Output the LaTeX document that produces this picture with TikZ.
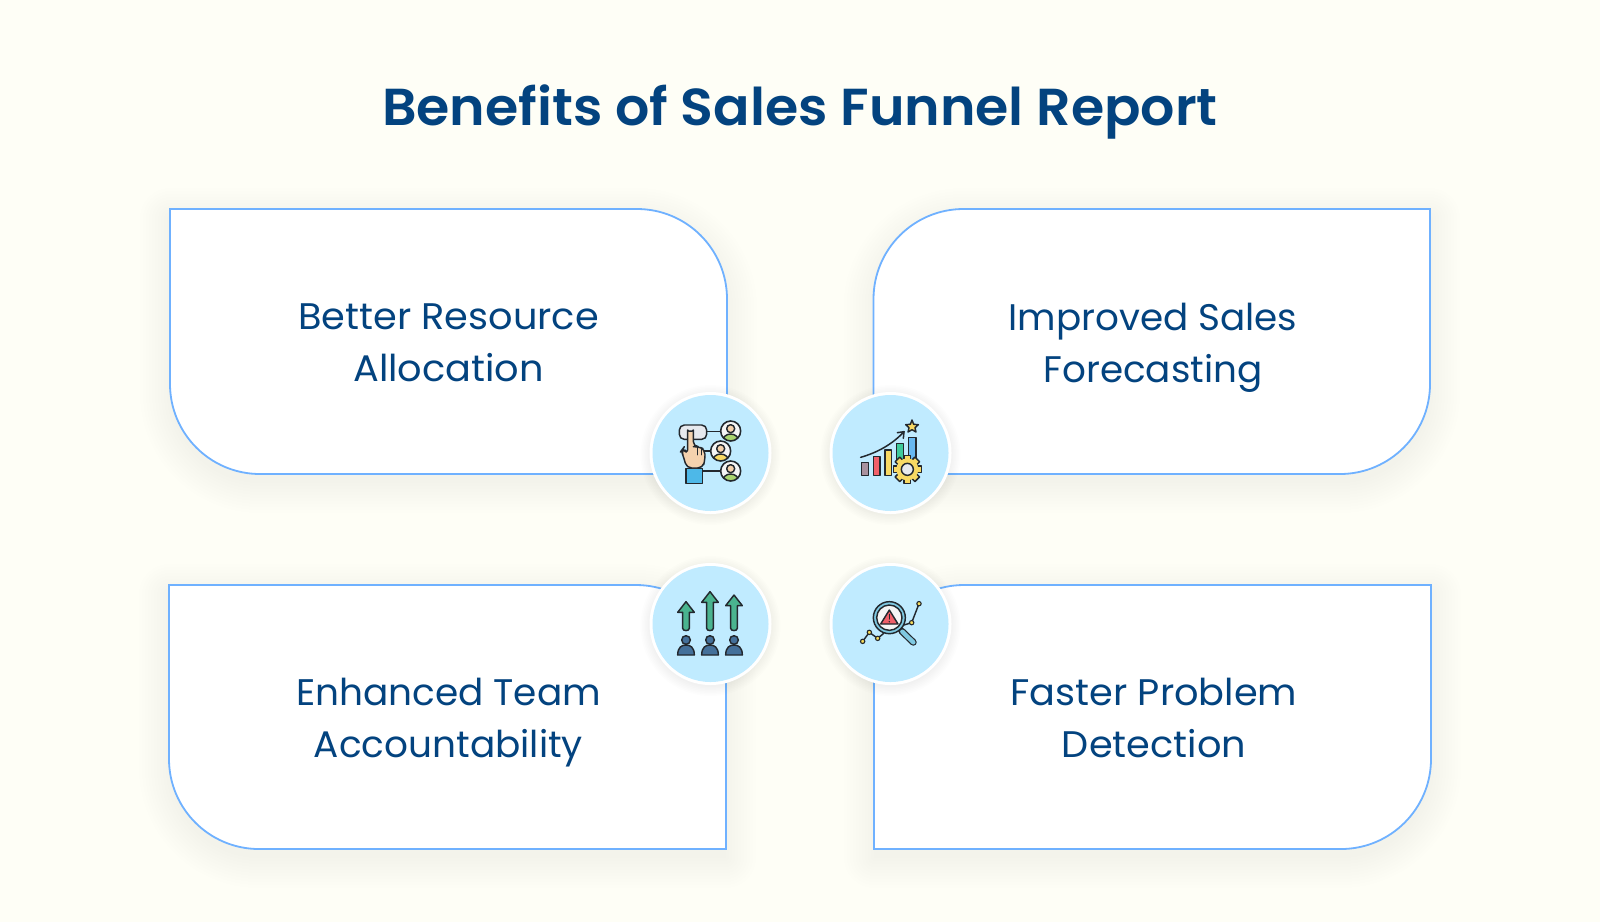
\documentclass[tikz,border=0pt]{standalone}
\usepackage{fontspec}
\setmainfont{Poppins}
\newfontfamily\bodyfont[FakeStretch=1.045]{Poppins}
\newfontfamily\headfont[FakeStretch=1.035]{Poppins SemiBold}
\definecolor{bgc}{HTML}{FEFEF6}
\definecolor{navy}{HTML}{03437F}
\definecolor{edge}{HTML}{6FB1FF}
\definecolor{disc}{HTML}{C0EBFF}
\definecolor{ink}{HTML}{23282E}
\definecolor{skin}{HTML}{F5D2AE}
\definecolor{pale}{HTML}{E7E9EE}
\definecolor{leaf}{HTML}{A9D46F}
\definecolor{sun}{HTML}{F8D964}
\definecolor{coral}{HTML}{F0606A}
\definecolor{mint}{HTML}{3FCB9B}
\definecolor{sky}{HTML}{68B8F0}
\definecolor{mauve}{HTML}{A8919E}
\definecolor{sea}{HTML}{4AB48F}
\definecolor{steel}{HTML}{44709A}
\definecolor{lens}{HTML}{7FC9E2}
\definecolor{cuff}{HTML}{4DB8E8}
\tikzset{
  x=1pt,y=-1pt,
  cardline/.style={draw=edge,line width=1.8pt,fill=white},
  softshade/.style={fill=black!62,opacity=0.005,draw=none},
  cardtext/.style={text=navy,align=center,font=\bodyfont\fontsize{37}{52}\selectfont,inner sep=0pt,transform shape},
  titletext/.style={text=navy,font=\headfont\fontsize{52}{60}\selectfont,inner sep=0pt,anchor=base},
  ring/.style={fill=white},
  badge/.style={fill=disc},
  glyph/.style={draw=ink,line width=1.45pt,line join=round,line cap=round},
  zoomed/.style={x=0.33333pt,y=-0.33333pt}
}
\newcommand{\twolines}[2]{\vphantom{Ag}#1\\\vphantom{Ag}#2}
% left, top, right, bottom, radii TL TR BR BL
\newcommand{\cardpath}[8]{
  ({#1+#5},#2) -- ({#3-#6},#2)
  .. controls ({#3-0.448*#6},#2) and (#3,{#2+0.448*#6}) .. (#3,{#2+#6})
  -- (#3,{#4-#7})
  .. controls (#3,{#4-0.448*#7}) and ({#3-0.448*#7},#4) .. ({#3-#7},#4)
  -- ({#1+#8},#4)
  .. controls ({#1+0.448*#8},#4) and (#1,{#4-0.448*#8}) .. (#1,{#4-#8})
  -- (#1,{#2+#5})
  .. controls (#1,{#2+0.448*#5}) and ({#1+0.448*#5},#2) .. ({#1+#5},#2) -- cycle
}
\newcommand{\shadedcard}[8]{
  \foreach \d in {0,3,...,30}{
    \pgfmathsetmacro{\ta}{#5+\d}
    \pgfmathsetmacro{\tb}{#6+\d}
    \pgfmathsetmacro{\tc}{#7+\d}
    \pgfmathsetmacro{\te}{#8+\d}
    \pgfmathsetmacro{\aa}{#1-\d}
    \pgfmathsetmacro{\ab}{#2-\d+9}
    \pgfmathsetmacro{\ac}{#3+\d}
    \pgfmathsetmacro{\ad}{#4+\d+9}
    \path[softshade] \cardpath{\aa}{\ab}{\ac}{\ad}{\ta}{\tb}{\tc}{\te};
  }
}
\newcommand{\shadedbadge}[2]{
  \foreach \d in {0,1.5,...,10}{
    \fill[black!62,opacity=0.008] (#1,{#2+2}) circle[radius={61+\d}];
  }
  \fill[ring] (#1,#2) circle[radius=61];
  \fill[badge] (#1,#2) circle[radius=58];
}
\newcommand{\iconperson}[3]{
  \begin{scope}
    \clip (#1,#2) circle[radius=30];
    \fill[white!92!gray] (#1,#2) circle[radius=30];
    \fill[#3] (#1,{#2+30}) ellipse[x radius=24,y radius=21];
    \draw[glyph] (#1,{#2+30}) ellipse[x radius=24,y radius=21];
  \end{scope}
  \draw[glyph,fill=skin] (#1,{#2-7}) circle[radius=12];
  \draw[glyph,line width=1.6pt] (#1,#2) circle[radius=30];
}
\newcommand{\iconriser}[3]{
  \draw[glyph,fill=sea] (#1,#2) -- ({#1+25},{#2+32}) -- ({#1+10},{#2+32}) -- ({#1+10},{#3-5})
    .. controls ({#1+10},{#3+4}) and ({#1-10},{#3+4}) .. ({#1-10},{#3-5})
    -- ({#1-10},{#2+32}) -- ({#1-25},{#2+32}) -- cycle;
}
\newcommand{\iconworker}[1]{
  \draw[glyph,fill=steel] (#1,255) circle[radius=13];
  \draw[glyph,fill=steel] ({#1-25},300) .. controls ({#1-25},276) and ({#1-12},270) .. (#1,270)
    .. controls ({#1+12},270) and ({#1+25},276) .. ({#1+25},300) -- cycle;
}
\newcommand{\icondot}[2]{\draw[draw=ink,line width=1.1pt,fill=sun!90!yellow] (#1,#2) circle[radius=6.5];}
\begin{document}
\begin{tikzpicture}
\useasboundingbox (0,0) rectangle (1600,922);
\fill[bgc] (0,0) rectangle (1600,922);

\shadedcard{170}{209}{727}{474}{0}{90}{0}{90}
\shadedcard{873.5}{209}{1430}{474}{90}{0}{90}{0}
\shadedcard{169}{585}{726}{849}{0}{90}{0}{90}
\shadedcard{874}{585}{1431}{849}{90}{0}{90}{0}
\path[cardline] \cardpath{170}{209}{727}{474}{0}{90}{0}{90};
\path[cardline] \cardpath{873.5}{209}{1430}{474}{90}{0}{90}{0};
\path[cardline] \cardpath{169}{585}{726}{849}{0}{90}{0}{90};
\path[cardline] \cardpath{874}{585}{1431}{849}{90}{0}{90}{0};

\node[titletext] (heading) at (800,125) {Benefits of Sales Funnel Report};
\begin{scope}[shift={(448.5,348)},xscale=0.99]
  \node[cardtext] (resource) at (0,0) {\twolines{Better Resource}{Allocation}};
\end{scope}
\begin{scope}[shift={(1153,348)},xscale=0.965]
  \node[cardtext] (forecast) at (0,0) {\twolines{Improved Sales}{Forecasting}};
\end{scope}
\begin{scope}[shift={(448.5,723)},xscale=0.968]
  \node[cardtext] (team) at (0,0) {\twolines{Enhanced Team}{Accountability}};
\end{scope}
\begin{scope}[shift={(1154,723)},xscale=0.99]
  \node[cardtext] (problem) at (0,0) {\twolines{Faster Problem}{Detection}};
\end{scope}

\shadedbadge{710.5}{453}
\shadedbadge{890.5}{453}
\shadedbadge{710.5}{624}
\shadedbadge{890.5}{624}

% resource icon
\begin{scope}[shift={(640,380)},zoomed]
  \draw[glyph] (200,155) -- (245,155);
  \draw[glyph] (190,213) -- (215,213);
  \draw[glyph] (185,273) -- (245,273);
  \draw[glyph,fill=pale,rounded corners=5] (118,135) rectangle (200,178);
  \iconperson{272}{153}{leaf}
  \iconperson{242}{213}{sun}
  \iconperson{272}{273}{leaf}
  \draw[glyph,fill=cuff] (138,265) rectangle (188,310);
  \draw[glyph,fill=skin,rounded corners=5] (143,222) -- (143,165)
    .. controls (143,155) and (160,155) .. (160,165) -- (160,200) -- (175,200)
    -- (195,208) -- (195,240) -- (188,264) -- (140,264) -- (131,232) -- (124,212) -- (130,204) -- cycle;
  \draw[glyph] (172,203) -- (172,224);
  \draw[glyph] (184,205) -- (184,224);
\end{scope}

% forecast icon
\begin{scope}[shift={(820,380)},zoomed]
  \draw[glyph,fill=mauve] (124,248) rectangle (146,286);
  \draw[glyph,fill=coral] (160,230) rectangle (180,286);
  \draw[glyph,fill=sun] (195,210) rectangle (215,286);
  \draw[glyph,fill=mint] (230,190) rectangle (250,245);
  \draw[glyph,fill=sky] (266,172) rectangle (288,240);
  \draw[glyph,line width=1.5pt] (122,232) .. controls (170,218) and (215,195) .. (252,155);
  \draw[glyph,line width=1.5pt] (232,158) -- (252,155) -- (250,175);
  \draw[glyph,fill=sun] (276,120) -- (281,133) -- (295,134) -- (285,143) -- (288,156)
    -- (276,149) -- (264,156) -- (267,143) -- (257,134) -- (271,133) -- cycle;
  \foreach \a in {0,45,...,315}{
    \draw[glyph,fill=sun,rotate around={\a:(262,268)}] (252,226) rectangle (272,248);
  }
  \fill[sun] (262,268) circle[radius=33];
  \draw[glyph,fill=pale] (262,268) circle[radius=18];
\end{scope}

% team icon
\begin{scope}[shift={(640,555)},zoomed]
  \iconriser{138}{140}{225}
  \iconriser{210}{110}{225}
  \iconriser{282}{120}{225}
  \iconworker{138}
  \iconworker{210}
  \iconworker{282}
\end{scope}

% problem icon
\begin{scope}[shift={(820,555)},zoomed]
  \draw[glyph] (128,259) -- (148,232) -- (173,250) -- (190,236);
  \draw[glyph] (245,212) -- (275,203) -- (297,146);
  \draw[draw=ink,line width=6.8pt,line cap=round] (245,228) -- (280,262);
  \draw[draw=lens,line width=4.4pt,line cap=round] (247,230) -- (280,262);
  \draw[glyph,fill=lens] (208,188) circle[radius=48];
  \draw[glyph,fill=white!92!gray] (208,188) circle[radius=38];
  \draw[glyph,fill=coral] (208,165) -- (234,207) -- (182,207) -- cycle;
  \draw[glyph,line width=1.2pt] (208,178) -- (208,192);
  \fill[ink] (208,200) circle[radius=2.5];
  \icondot{128}{259}
  \icondot{148}{232}
  \icondot{173}{250}
  \icondot{275}{203}
  \icondot{297}{146}
\end{scope}
\end{tikzpicture}
\end{document}
